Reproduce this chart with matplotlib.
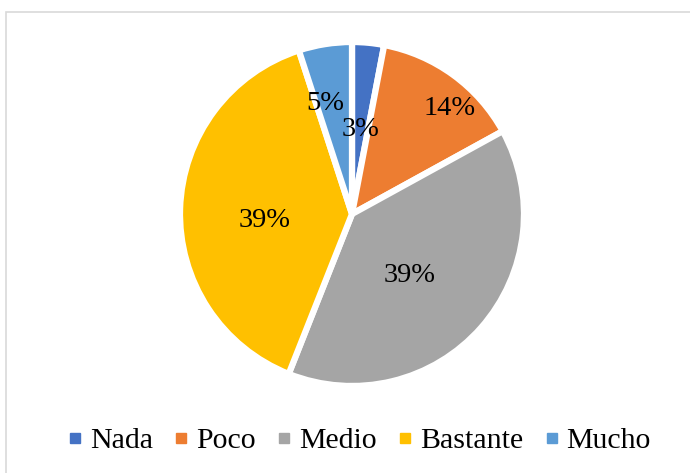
import matplotlib.pyplot as plt
import numpy as np
from matplotlib.lines import Line2D
from matplotlib.patches import Rectangle

# Response shares (percent)
categories = ['Nada', 'Poco', 'Medio', 'Bastante', 'Mucho']
shares = [3, 14, 39, 39, 5]
colors = ['#4472C4', '#ED7D31', '#A5A5A5', '#FFC000', '#5B9BD5']

# where each percent label sits: fraction of radius and angle nudge (deg)
label_radius = [0.51, 0.85, 0.48, 0.51, 0.68]
label_nudge = [0, 6, 4, -4, -4]

plt.rcParams['font.family'] = ['Liberation Serif', 'DejaVu Serif']

fig = plt.figure(figsize=(6.9, 4.73), dpi=100)
ax = fig.add_axes([0, 0, 1, 1])

# chart area frame (runs off the right and bottom)
ax.add_patch(Rectangle((6, -20), 720, 473 - 12 + 20, fill=False,
                       edgecolor='#D9D9D9', linewidth=1.2))

cx, cy, r = 352, 473 - 214, 172
wedges, _ = ax.pie(shares, colors=colors, startangle=90, counterclock=False,
                   center=(cx, cy), radius=r, frame=True,
                   wedgeprops=dict(edgecolor='white', linewidth=4.5))
ax.set_xlim(0, 690)
ax.set_ylim(0, 473)
ax.set_aspect('equal')
ax.axis('off')

for w, val, frac, nudge in zip(wedges, shares, label_radius, label_nudge):
    mid = np.deg2rad((w.theta1 + w.theta2) / 2 - nudge)
    ax.text(cx + frac * r * np.cos(mid), cy + frac * r * np.sin(mid),
            f'{val}%', ha='center', va='center_baseline', fontsize=20.5,
            color='#000000')

handles = [Line2D([], [], marker='s', linestyle='', markersize=7.5,
                  markerfacecolor=c, markeredgecolor=c) for c in colors]
fig.legend(handles, categories, loc='center', bbox_to_anchor=(360 / 690, 1 - 441 / 473),
           ncol=5, frameon=False, fontsize=21.5, handlelength=0.4,
           handletextpad=0.3, columnspacing=0.75)

fig.savefig('out.png', dpi=100, facecolor='white')
